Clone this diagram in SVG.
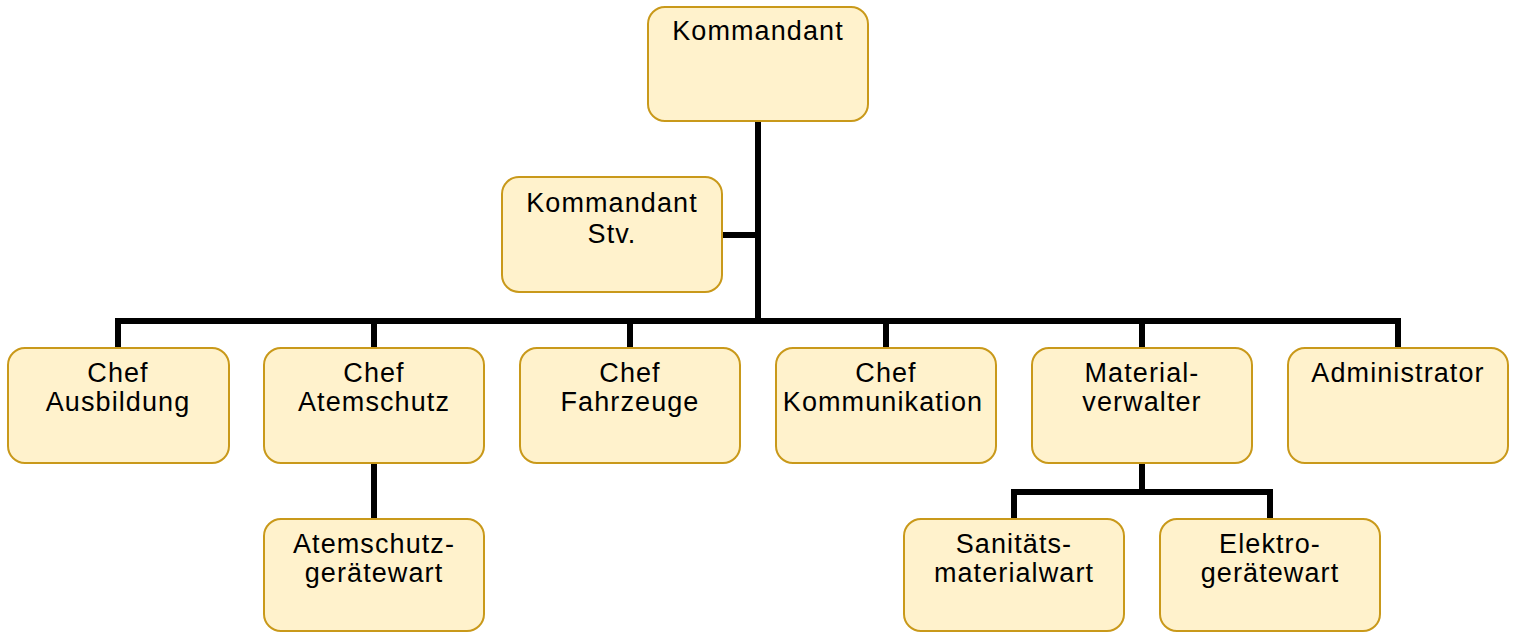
<svg xmlns="http://www.w3.org/2000/svg" width="1518" height="632" viewBox="0 0 1518 632">
<style>
.n rect{fill:#fff2cc;stroke:#c9991a;stroke-width:2}
.n text{font-family:"Liberation Sans",Arial,sans-serif;font-size:27px;letter-spacing:1.1px;fill:#000;text-anchor:middle}
.c path{fill:none;stroke:#000;stroke-width:6;stroke-linejoin:miter}
</style>
<rect width="1518" height="632" fill="#fff"/>
<g id="connectors" class="c">
<path d="M758,121 V321"/>
<path d="M722,235 H758"/>
<path d="M118,348 V321 H1398 V348"/>
<path d="M374,321 V348"/>
<path d="M630,321 V348"/>
<path d="M886,321 V348"/>
<path d="M1142,321 V348"/>
<path d="M374,463 V519"/>
<path d="M1142,463 V492"/>
<path d="M1014,519 V492 H1270 V519"/>
</g>
<g id="kommandant" class="n"><rect x="648" y="7" width="220" height="114" rx="17"/><text x="758" y="40">Kommandant</text></g>
<g id="stv" class="n"><rect x="502" y="177" width="220" height="115" rx="17"/><text x="612" y="212">Kommandant</text><text x="612" y="243">Stv.</text></g>
<g id="ausbildung" class="n"><rect x="8" y="348" width="221" height="115" rx="17"/><text x="118" y="382">Chef</text><text x="118" y="411">Ausbildung</text></g>
<g id="atemschutz" class="n"><rect x="264" y="348" width="220" height="115" rx="17"/><text x="374" y="382">Chef</text><text x="374" y="411">Atemschutz</text></g>
<g id="fahrzeuge" class="n"><rect x="520" y="348" width="220" height="115" rx="17"/><text x="630" y="382">Chef</text><text x="630" y="411">Fahrzeuge</text></g>
<g id="kommunikation" class="n"><rect x="776" y="348" width="220" height="115" rx="17"/><text x="886" y="382">Chef</text><text x="883" y="411">Kommunikation</text></g>
<g id="materialverwalter" class="n"><rect x="1032" y="348" width="220" height="115" rx="17"/><text x="1142" y="382">Material-</text><text x="1142" y="411">verwalter</text></g>
<g id="administrator" class="n"><rect x="1288" y="348" width="220" height="115" rx="17"/><text x="1398" y="382">Administrator</text></g>
<g id="atemschutzgeraetewart" class="n"><rect x="264" y="519" width="220" height="112" rx="17"/><text x="374" y="553">Atemschutz-</text><text x="374" y="582">gerätewart</text></g>
<g id="sanitaetsmaterialwart" class="n"><rect x="904" y="519" width="220" height="112" rx="17"/><text x="1014" y="553">Sanitäts-</text><text x="1014" y="582">materialwart</text></g>
<g id="elektrogeraetewart" class="n"><rect x="1160" y="519" width="220" height="112" rx="17"/><text x="1270" y="553">Elektro-</text><text x="1270" y="582">gerätewart</text></g>
</svg>
